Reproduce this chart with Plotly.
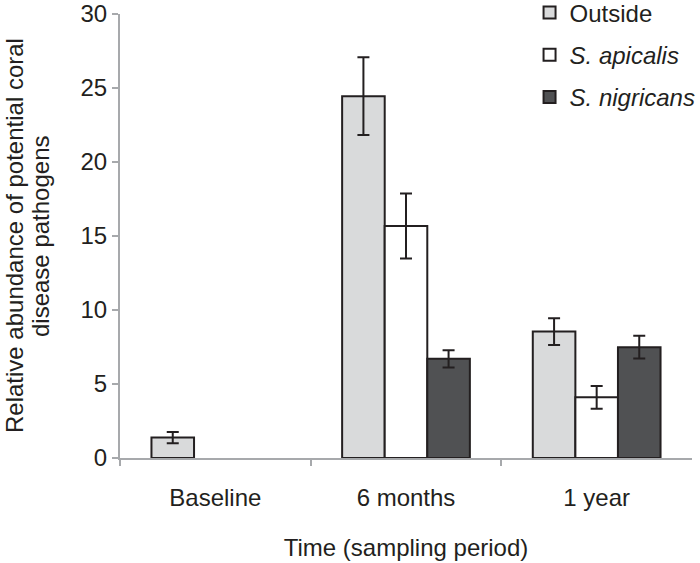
import plotly.graph_objects as go

categories = ["Baseline", "6 months", "1 year"]
series_names = ["Outside", "<i>S. apicalis</i>", "<i>S. nigricans</i>"]
outside = [1.38, 24.45, 8.54]
outside_err = [0.38, 2.63, 0.90]
apicalis = [None, 15.68, 4.10]
apicalis_err = [None, 2.20, 0.77]
nigricans = [None, 6.70, 7.49]
nigricans_err = [None, 0.58, 0.77]
colors = ["#d9dadb", "#ffffff", "#505153"]
yticks = [0, 5, 10, 15, 20, 25, 30]
ytitle_lines = ["Relative abundance of potential coral", "disease pathogens"]
xtitle = "Time (sampling period)"

values = [outside, apicalis, nigricans]
errors = [outside_err, apicalis_err, nigricans_err]

ink = "#231f20"
fig = go.Figure()
for i, (name, v, e, c) in enumerate(zip(series_names, values, errors, colors)):
    fig.add_trace(go.Bar(
        x=categories, y=v, name=name,
        marker=dict(color=c, line=dict(color=ink, width=2)),
        error_y=dict(type="data", array=e, visible=True, color=ink, thickness=2, width=6),
        legendgroup=f"g{i}",
    ))

# invisible trace to anchor the boundary-tick axis
fig.add_trace(go.Scatter(x=[-0.5, 2.5], y=[0, 0], xaxis="x2", mode="lines",
                         line=dict(width=0), showlegend=False, hoverinfo="skip"))

font = "Liberation Sans, Arial, Helvetica, sans-serif"
fs = 24
for line, shift in zip(ytitle_lines, [-106, -80]):
    fig.add_annotation(text=line, textangle=-90, xref="x domain", yref="y domain",
                       x=0, y=0.5, xanchor="center", yanchor="middle", xshift=shift,
                       showarrow=False, font=dict(size=fs, color=ink))

fig.update_layout(
    width=700, height=563,
    margin=dict(l=120, r=8, t=14, b=105, autoexpand=False),
    plot_bgcolor="white", paper_bgcolor="white",
    font=dict(family=font, size=fs, color=ink),
    barmode="group", bargap=0.33, bargroupgap=0,
    showlegend=True,
    legend=dict(x=0.716, y=1.053, xanchor="left", yanchor="top",
                font=dict(size=fs, color=ink), tracegroupgap=8,
                bgcolor="rgba(0,0,0,0)"),
    xaxis=dict(type="category", showline=True, linecolor="#a7a9ac", linewidth=2,
               ticks="", tickfont=dict(size=fs, color=ink), ticklabelstandoff=17,
               automargin=False,
               title=dict(text=xtitle, font=dict(size=fs, color=ink), standoff=29)),
    xaxis2=dict(overlaying="x", anchor="y", range=[-0.5, 2.5], tickmode="array",
                tickvals=[-0.5, 0.5, 1.5], ticks="outside", ticklen=7, tickwidth=2,
                tickcolor="#a7a9ac", showticklabels=False, showline=False, showgrid=False,
                zeroline=False, side="bottom", automargin=False),
    yaxis=dict(range=[0, 30], tickvals=yticks, showline=True, linecolor="#a7a9ac", linewidth=2,
               ticks="outside", ticklen=6, tickwidth=2, tickcolor="#a7a9ac",
               showgrid=False, zeroline=False, tickfont=dict(size=fs, color=ink),
               automargin=False),
)

fig.write_html("out.html", config={"displayModeBar": False},
               post_script="document.body.style.margin='0px';")
